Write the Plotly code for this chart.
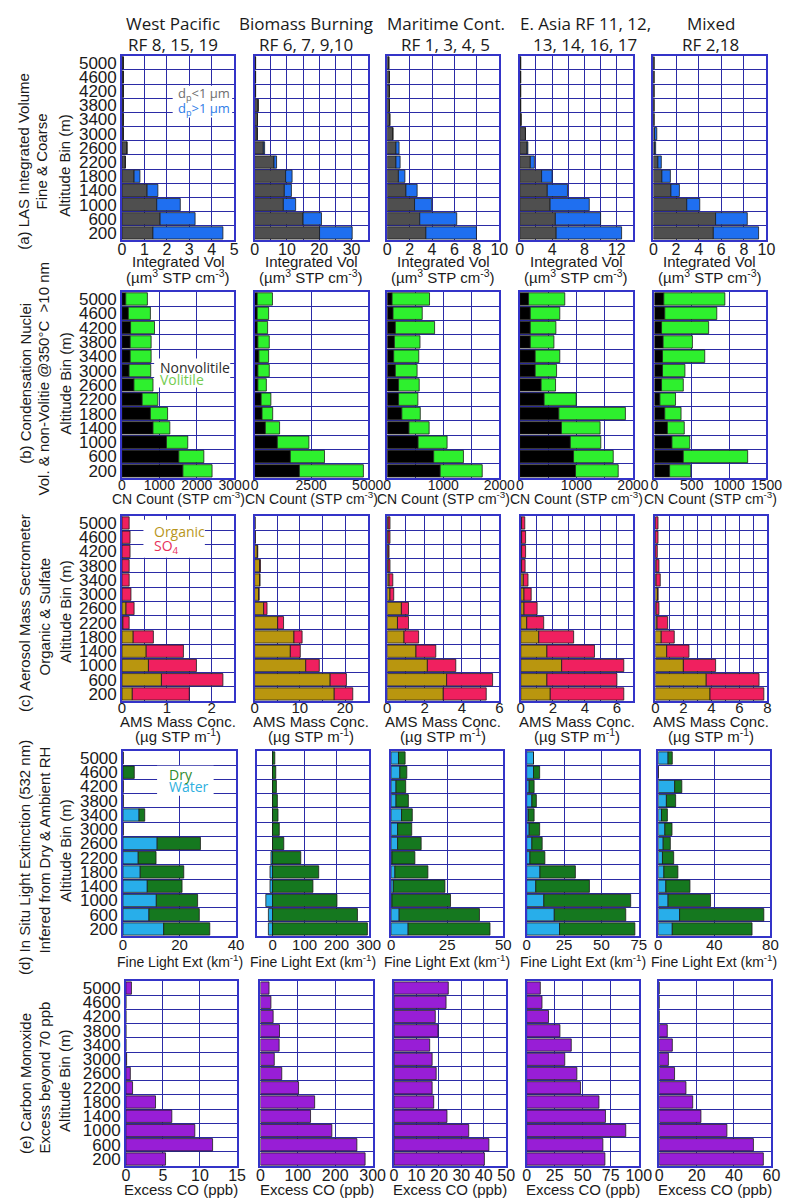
import plotly.graph_objects as go

W, H = 802, 1202

# Altitude bins (m), bottom to top, and the bin boundaries used as grid lines
altitudes = [200, 600, 1000, 1400, 1800, 2200, 2600, 3000, 3400, 3800, 4200, 4600, 5000]
bin_edges = [400, 800, 1200, 1600, 2000, 2400, 2800, 3200, 3600, 4000, 4400, 4800]

region_titles = [
    ("West Pacific", "RF 8, 15, 19"),
    ("Biomass Burning", "RF 6, 7, 9,10"),
    ("Maritime Cont.", "RF 1, 3, 4, 5"),
    ("E. Asia RF 11, 12,", "13, 14, 16, 17"),
    ("Mixed", "RF 2,18"),
]

# (a) LAS integrated volume (um3 STP cm-3): fine (dp<1um) and coarse (dp>1um)
las_fine = [
    [1.38, 1.70, 1.55, 1.12, 0.54, 0.15, 0.22, 0.06, 0.06, 0.06, 0.06, 0.06, 0.06],
    [20.1, 15.0, 8.9, 9.2, 9.6, 6.0, 2.7, 0.8, 0.9, 1.1, 0.3, 0.3, 0.3],
    [3.45, 2.9, 2.44, 1.67, 1.0, 0.78, 0.78, 0.5, 0.23, 0.2, 0.2, 0.2, 0.14],
    [4.5, 4.4, 3.75, 3.4, 2.7, 1.3, 0.9, 0.7, 0.15, 0.1, 0.1, 0.1, 0.1],
    [5.3, 5.5, 2.95, 1.55, 0.75, 0.4, 0.1, 0.1, 0.05, 0.05, 0.05, 0.05, 0.05],
]
las_coarse = [
    [3.12, 1.56, 1.05, 0.48, 0.26, 0, 0, 0, 0, 0, 0, 0, 0],
    [10.1, 5.7, 3.8, 2.2, 2.0, 0.8, 0.4, 0.1, 0, 0, 0, 0, 0],
    [4.51, 3.3, 1.53, 1.0, 0.58, 0.37, 0.28, 0, 0, 0, 0, 0, 0],
    [8.1, 5.6, 4.85, 2.5, 1.3, 0.5, 0.1, 0, 0, 0, 0, 0, 0],
    [4.0, 2.8, 1.15, 0.75, 0.75, 0.3, 0.1, 0.2, 0, 0, 0, 0, 0],
]

# (b) Condensation nuclei counts (STP cm-3): non-volatile and volatile at 350 C
cn_nonvol = [
    [1630, 1520, 1190, 830, 760, 540, 320, 190, 220, 220, 230, 170, 100],
    [1980, 1580, 1005, 475, 330, 290, 145, 145, 190, 145, 115, 115, 115],
    [945, 829, 551, 388, 261, 203, 203, 145, 116, 128, 145, 104, 87],
    [985, 950, 893, 736, 690, 430, 377, 272, 272, 185, 185, 185, 155],
    [204, 387, 235, 174, 139, 74, 96, 109, 109, 117, 96, 139, 126],
]
cn_vol = [
    [780, 670, 570, 450, 460, 420, 510, 580, 560, 560, 640, 590, 580],
    [2830, 1510, 1395, 630, 470, 430, 375, 505, 430, 505, 460, 505, 675],
    [750, 531, 517, 360, 329, 344, 368, 388, 447, 457, 700, 521, 668],
    [755, 702, 539, 684, 1177, 567, 255, 378, 435, 418, 453, 522, 640],
    [283, 861, 239, 226, 218, 209, 291, 300, 565, 392, 630, 696, 817],
]

# (c) AMS mass concentration: organic and sulfate
ams_org = [
    [0.23, 0.88, 0.59, 0.54, 0.25, 0.02, 0.09, 0, 0, 0, 0, 0, 0],
    [17.6, 16.7, 11.3, 7.9, 8.7, 5.1, 2.0, 0.9, 1.1, 1.1, 0.6, 0.1, 0.05],
    [3.0, 3.18, 2.15, 1.54, 0.9, 0.55, 0.76, 0.15, 0.1, 0.05, 0.05, 0.05, 0.05],
    [1.84, 1.63, 2.55, 1.63, 1.12, 0.37, 0.2, 0.2, 0.16, 0.05, 0.05, 0.05, 0.05],
    [3.9, 3.63, 2.0, 0.81, 0.42, 0.12, 0.05, 0.15, 0.05, 0.05, 0, 0, 0],
]
ams_so4 = [
    [1.27, 1.37, 1.07, 0.83, 0.45, 0.14, 0.18, 0.2, 0.16, 0.16, 0.18, 0.18, 0.16],
    [4.1, 3.6, 3.0, 2.2, 1.8, 1.3, 0.75, 0.1, 0.1, 0.2, 0.1, 0.05, 0.05],
    [2.3, 2.46, 1.52, 1.06, 0.78, 0.59, 0.38, 0.2, 0.2, 0.1, 0.05, 0.1, 0.1],
    [4.59, 4.37, 3.88, 2.97, 2.18, 1.06, 0.82, 0.45, 0.29, 0.22, 0.25, 0.25, 0.2],
    [3.84, 3.77, 2.3, 1.59, 0.93, 0.76, 0.21, 0.05, 0.3, 0.21, 0.14, 0.19, 0.19],
]

# (d) Fine light extinction at 532 nm (km-1): water uptake and dry part
ext_water = [
    [14.4, 9.2, 11.8, 8.6, 6.1, 5.4, 12.1, 0, 5.7, 0, 0, 0, 0],
    [-13, -13, -21, -8, -8, -5, 0, 0, 0, 0, 0, 0, 0],
    [7.6, 3.6, 0.4, 1.0, 1.7, 0.4, 2.9, 2.9, 4.65, 2.2, 2.2, 3.9, 3.3],
    [22.0, 18.5, 11.5, 6.1, 8.9, 2.2, 3.5, 1.7, 1.1, 3.5, 1.7, 4.6, 4.6],
    [10.0, 15.2, 7.0, 5.4, 4.0, 3.0, 3.5, 4.7, 2.3, 5.8, 11.7, 0, 7.0],
]
ext_dry = [
    [16.3, 17.8, 14.6, 12.3, 15.4, 6.3, 15.3, 0, 2.0, 0, 0, 4.0, 0],
    [296, 265, 201, 126, 144, 88, 35, 21, 17, 15, 12, 10, 7],
    [36.5, 35.8, 26.1, 23.0, 14.7, 10.2, 10.5, 6.3, 4.8, 5.5, 4.3, 3.1, 2.95],
    [50.4, 47.8, 58.1, 35.9, 23.7, 10.0, 6.9, 7.0, 3.9, 3.0, 3.3, 4.1, 0],
    [56.9, 60.1, 30.3, 17.2, 10.0, 8.0, 5.1, 5.1, 4.2, 6.6, 5.1, 0, 3.0],
]

# (e) Excess CO beyond 70 ppb
co_excess = [
    [5.35, 11.7, 9.3, 6.2, 4.0, 0.9, 0.6, 0.1, 0, 0, 0, 0, 0.75],
    [280, 258, 191, 134, 145, 102, 57, 37, 50, 51, 34, 28, 23],
    [40.3, 42.3, 33.3, 23.6, 17.7, 17.0, 18.8, 17.0, 15.9, 19.6, 18.4, 23.2, 24.2],
    [69.8, 68.0, 88.4, 70.3, 64.5, 48.0, 44.8, 34.0, 39.8, 29.7, 19.5, 13.7, 12.2],
    [55.7, 50.4, 36.2, 22.3, 17.9, 14.3, 8.2, 4.9, 7.0, 4.3, 0, 0, 0],
]

# x-axis setup per row and column: (range, labelled ticks, extra grid lines)
x_axes = [
    [([0, 5], [0, 1, 2, 3, 4, 5], []),
     ([0, 35], [0, 10, 20, 30], [5, 15, 25]),
     ([0, 10], [0, 2, 4, 6, 8, 10], []),
     ([0, 14], [0, 4, 8, 12], [2, 6, 10]),
     ([0, 10], [0, 2, 4, 6, 8, 10], [])],
    [([0, 3000], [0, 1000, 2000, 3000], []),
     ([0, 5000], [0, 2500, 5000], []),
     ([0, 2000], [0, 1000, 2000], [500, 1500]),
     ([0, 2000], [0, 1000, 2000], [500, 1500]),
     ([0, 1500], [0, 500, 1000, 1500], [])],
    [([0, 2.5], [0, 1, 2], [0.5, 1.5, 2.5]),
     ([0, 25], [0, 10, 20], [5, 15, 25]),
     ([0, 6], [0, 2, 4, 6], [1, 3, 5]),
     ([0, 7], [0, 2, 4, 6], [1, 3, 5]),
     ([0, 8], [0, 2, 4, 6, 8], [1, 3, 5, 7])],
    [([0, 40], [0, 20, 40], []),
     ([-50, 300], [0, 100, 200, 300], []),
     ([0, 50], [0, 25, 50], []),
     ([0, 75], [0, 25, 50, 75], []),
     ([0, 80], [0, 40, 80], [])],
    [([0, 15], [0, 5, 10, 15], []),
     ([0, 300], [0, 100, 200, 300], []),
     ([0, 50], [0, 10, 20, 30, 40, 50], []),
     ([0, 100], [0, 25, 50, 75, 100], []),
     ([0, 60], [0, 20, 40, 60], [])],
]
x_tick_size = [16, 14, 15, 15, 16]
x_tick_standoff = [-6, -7, -8, -6, -6]

# Axis title lines under each row of panels: (text, y centre in px, font size)
x_titles = [
    [("Integrated Vol", 261, 15), ("(\u00b5m<sup>3</sup> STP cm<sup>-3</sup>)", 276, 15)],
    [("CN Count (STP cm<sup>-3</sup>)", 498, 14)],
    [("AMS Mass Conc.", 723, 15), ("(\u00b5g STP m<sup>-1</sup>)", 737, 15)],
    [("Fine Light Ext (km<sup>-1</sup>)", 963, 14)],
    [("Excess CO (ppb)", 1192, 15)],
]

row_labels = [
    ["(a) LAS Integrated Volume", "Fine &amp; Coarse", "Altitude Bin (m)"],
    ["(b) Condensation Nuclei", "Vol. &amp; non-Volitie @350\u00b0C &nbsp;&gt;10 nm", "Altitude Bin (m)"],
    ["(c) Aerosol Mass Sectrometer", "Organic &amp; Sulfate", "Altitude Bin (m)"],
    ["(d) In Situ Light Extinction (532 nm)", "Infered from Dry &amp; Ambient RH", "Altitude Bin (m)"],
    ["(e) Carbon Monoxide", "Excess beyond 70 ppb", "Altitude Bin (m)"],
]

# Panel placement in pixels
panel_x = [
    [(121, 236), (257, 373), (393, 508), (529, 645), (666, 782)],
    [(121, 236), (257, 373), (393, 508), (529, 645), (667, 782)],
    [(121, 236), (257, 373), (393, 508), (530, 645), (668, 783)],
    [(122, 238), (259, 374), (397, 512), (536, 651), (671, 786)],
    [(125, 239), (263, 378), (400, 515), (536, 651), (672, 787)],
]
panel_y = [(54, 239), (291, 478), (516, 702), (752, 938), (983, 1169)]

C_FINE, C_COARSE = "#4f4f4f", "#1f6ff0"
C_NONVOL, C_VOL = "#000000", "#2ef02e"
C_ORG, C_SO4 = "#b9960f", "#f0205f"
C_WATER, C_DRY = "#28aeea", "#15781f"
C_CO = "#981ed6"
GRID = "#2b2ba6"
FRAME = "#3434c8"
TXT = "#1a1a1a"
SANS = "Liberation Sans, Arial, sans-serif"

row_series = [
    [(las_fine, C_FINE), (las_coarse, C_COARSE)],
    [(cn_nonvol, C_NONVOL), (cn_vol, C_VOL)],
    [(ams_org, C_ORG), (ams_so4, C_SO4)],
    [(ext_water, C_WATER), (ext_dry, C_DRY)],
    [(co_excess, C_CO)],
]


def fx(x):
    return x / W


def fy(y):
    return 1 - y / H


fig = go.Figure()
layout = {}
annotations = []
shapes = []

for r in range(5):
    top, bot = panel_y[r]
    for c in range(5):
        idx = r * 5 + c + 1
        xa = "x" if idx == 1 else f"x{idx}"
        ya = "y" if idx == 1 else f"y{idx}"
        for series, color in row_series[r]:
            fig.add_trace(go.Bar(
                x=series[c], y=altitudes, orientation="h",
                width=345,
                marker=dict(color=color, line=dict(color="#1c1c1c", width=0.8)),
                xaxis=xa, yaxis=ya, showlegend=False, hoverinfo="x+y",
            ))
        left, right = panel_x[r][c]
        rng, ticks, extra = x_axes[r][c]
        layout["xaxis" if idx == 1 else f"xaxis{idx}"] = dict(
            domain=[fx(left), fx(right)], anchor=ya, range=rng,
            tickmode="array", tickvals=ticks, ticks="",
            ticklabelstandoff=x_tick_standoff[r],
            showgrid=True, gridcolor=GRID, gridwidth=1.2,
            minor=dict(tickmode="array", tickvals=extra, showgrid=True,
                       gridcolor=GRID, gridwidth=1.2, ticks=""),
            zeroline=False, showline=True, mirror=True,
            linecolor=FRAME, linewidth=1.6,
            tickfont=dict(family=SANS, size=x_tick_size[r], color=TXT),
            fixedrange=True,
        )
        layout["yaxis" if idx == 1 else f"yaxis{idx}"] = dict(
            domain=[fy(bot), fy(top)], anchor=xa, range=[0, 5200],
            tickmode="array", tickvals=altitudes, ticks="",
            showticklabels=(c == 0), showgrid=False,
            minor=dict(tickmode="array", tickvals=bin_edges, showgrid=True,
                       gridcolor=GRID, gridwidth=1.2, ticks=""),
            zeroline=False, showline=True, mirror=True,
            linecolor=FRAME, linewidth=1.6,
            tickfont=dict(family=SANS, size=17, color=TXT),
            fixedrange=True,
        )
        for text, yy, size in x_titles[r]:
            annotations.append(dict(
                x=fx((left + right) / 2), y=fy(yy), xref="paper", yref="paper",
                text=text, showarrow=False, xanchor="center", yanchor="middle",
                font=dict(family=SANS, size=size, color=TXT),
            ))

# Column headings
title_x = [173, 310, 453, 596, 725]
for c, (t1, t2) in enumerate(region_titles):
    for text, yy in ((t1, 22), (t2, 43)):
        annotations.append(dict(
            x=fx(title_x[c]), y=fy(yy), xref="paper", yref="paper", text=text,
            showarrow=False, xanchor="center", yanchor="middle",
            font=dict(family="Open Sans, sans-serif", size=17, color=TXT),
        ))

# Rotated row labels
label_pos = [
    [(20, 160), (38, 160), (62, 164)],
    [(22, 383), (40, 379), (63, 383)],
    [(21, 613), (41, 617), (63, 612)],
    [(21, 859), (41, 851), (63, 852)],
    [(22, 1086), (42, 1080), (62, 1083)],
]
for r in range(5):
    for text, (xx, yy) in zip(row_labels[r], label_pos[r]):
        annotations.append(dict(
            x=fx(xx), y=fy(yy), xref="paper", yref="paper", text=text,
            showarrow=False, textangle=-90, xanchor="center", yanchor="middle",
            font=dict(family=SANS, size=15, color=TXT),
        ))

# In-panel legend keys (white boxes behind text)
legend_boxes = [(173, 84, 234, 116), (154, 358, 232, 387), (143, 520, 206, 558), (157, 767, 215, 797)]
for x0, y0, x1, y1 in legend_boxes:
    shapes.append(dict(type="rect", xref="paper", yref="paper",
                       x0=fx(x0), x1=fx(x1), y0=fy(y1), y1=fy(y0),
                       fillcolor="white", line=dict(width=0), layer="above"))

legend_texts = [
    ("d<sub>p</sub>&lt;1 \u00b5m", 176, 92, "#6e6e6e", 13),
    ("d<sub>p</sub>&gt;1 \u00b5m", 176, 107, "#2f7de8", 13),
    ("Nonvolitile", 158, 367, "#2a2a2a", 14),
    ("Volitile", 158, 379, "#74cc50", 14),
    ("Organic", 152, 532, "#b8961c", 14),
    ("SO<sub>4</sub>", 152, 547, "#e8305a", 14),
    ("Dry", 167, 776, "#2e8b2e", 14),
    ("Water", 167, 788, "#2fb0e0", 14),
]
for text, xx, yy, col, size in legend_texts:
    annotations.append(dict(
        x=fx(xx), y=fy(yy), xref="paper", yref="paper", text=text,
        showarrow=False, xanchor="left", yanchor="middle",
        font=dict(family="Open Sans, sans-serif", size=size, color=col),
    ))

fig.update_layout(
    **layout,
    width=W, height=H, autosize=False,
    margin=dict(l=0, r=0, t=0, b=0),
    paper_bgcolor="white", plot_bgcolor="white",
    barmode="relative", bargap=0.1,
    annotations=annotations, shapes=shapes,
    showlegend=False,
)

fig.write_html("out.html")
